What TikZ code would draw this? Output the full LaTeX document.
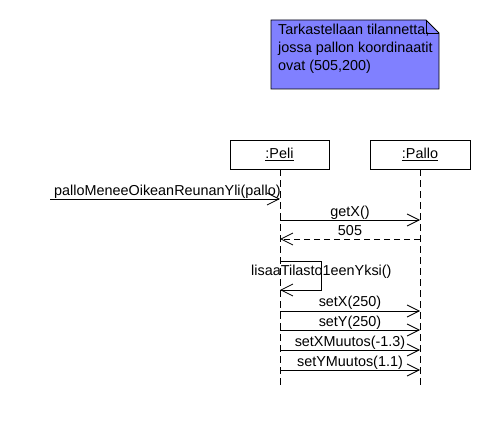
\documentclass[tikz,border=0pt]{standalone}
\usepackage{fontspec}
\setmainfont{Liberation Sans}
\usetikzlibrary{arrows.meta}
\definecolor{notefill}{RGB}{128,128,255}
\tikzset{
  objbox/.style={draw=black, line width=0.8pt, fill=white, minimum width=100pt, minimum height=29pt, inner sep=0pt, font=\fontsize{14.4}{16}\selectfont},
  lifeline/.style={line width=0.8pt, dash pattern=on 7pt off 4pt},
  msg/.style={line width=0.8pt, -{Straight Barb[length=12pt,width=12pt,line width=0.8pt]}},
  ret/.style={msg, dash pattern=on 6pt off 4pt},
  lbl/.style={font=\fontsize{14.4}{16}\selectfont, inner sep=0pt, anchor=base},
}
\begin{document}
\begin{tikzpicture}[x=1pt,y=-1pt]
\useasboundingbox (0,0) rectangle (490,430);
% note
\coordinate (nA) at (271,20);
\coordinate (nB) at (426,20);
\coordinate (nC) at (439,33);
\coordinate (nD) at (439,89);
\coordinate (nE) at (271,89);
\coordinate (nF) at (426,33);
\draw[line width=0.8pt, fill=notefill] (nA) -- (nB) -- (nC) -- (nD) -- (nE) -- cycle;
\draw[line width=0.8pt] (nB) -- (nF) -- (nC);
\node[anchor=north west, align=left, inner sep=0pt, font=\fontsize{14.4}{18}\selectfont] (note) at (278,24)
  {Tarkastellaan tilannetta,\\jossa pallon koordinaatit\\ovat (505,200)};
% objects
\node[objbox, minimum width=99pt] (peli) at (279.5,154.5) {\underline{:Peli}};
\node[objbox] (pallo) at (420,154.5) {\underline{:Pallo}};
\coordinate (peliEnd) at (280,388);
\coordinate (palloEnd) at (420,388);
\draw[lifeline] (peli.south -| peliEnd) -- (peliEnd);
\draw[lifeline] (pallo.south) -- (palloEnd);
% incoming message
\coordinate (start) at (50,199);
\coordinate (p1) at (280,199);
\draw[msg] (start) -- (p1);
\node[lbl, anchor=base west] (m1) at (54,195.5) {palloMeneeOikeanReunanYli(pallo)};
% getX
\coordinate (p2) at (280,220);
\coordinate (q2) at (420,220);
\draw[msg] (p2) -- (q2);
\node[lbl] (m2) at (350,216.5) {getX()};
% return 505
\coordinate (q3) at (420,239);
\coordinate (p3) at (280,239);
\draw[ret] (q3) -- (p3);
\node[lbl] (m3) at (350,236) {505};
% self call
\coordinate (s1) at (280,261);
\coordinate (s2) at (321,261);
\coordinate (s3) at (321,290);
\coordinate (s4) at (280,290);
\draw[msg] (s1) -- (s2) -- (s3) -- (s4);
\node[lbl, anchor=base west] (m4) at (251,276) {lisaaTilasto1eenYksi()};
% setters
\coordinate (p5) at (280,311);
\coordinate (q5) at (420,311);
\draw[msg] (p5) -- (q5);
\node[lbl] (m5) at (350,307) {setX(250)};
\coordinate (p6) at (280,330);
\coordinate (q6) at (420,330);
\draw[msg] (p6) -- (q6);
\node[lbl] (m6) at (350,326.5) {setY(250)};
\coordinate (p7) at (280,350);
\coordinate (q7) at (420,350);
\draw[msg] (p7) -- (q7);
\node[lbl] (m7) at (350,346.5) {setXMuutos(-1.3)};
\coordinate (p8) at (280,370);
\coordinate (q8) at (420,370);
\draw[msg] (p8) -- (q8);
\node[lbl] (m8) at (350,366.5) {setYMuutos(1.1)};
\end{tikzpicture}
\end{document}
